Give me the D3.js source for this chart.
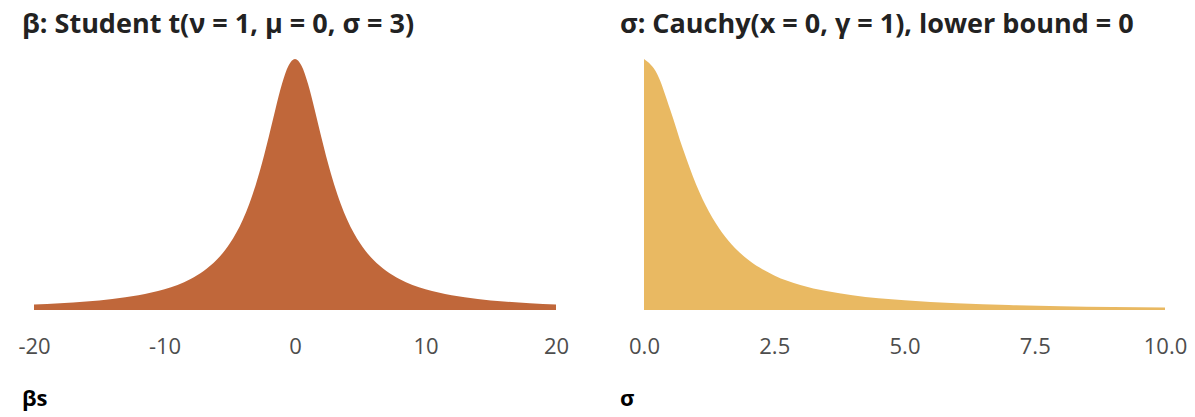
<!DOCTYPE html>
<html>
<head>
<meta charset="utf-8">
<script src="https://cdn.jsdelivr.net/npm/d3@7"></script>
<style>
  body { margin: 0; background: #fff; }
  svg text { font-family: "Open Sans", "Noto Sans", sans-serif; }
</style>
</head>
<body>
<div id="viz"></div>
<script>
// values (density heights)
const betaX = [-20, -18, -16, -14, -12, -10, -9, -8, -7, -6, -5, -4, -3.5, -3, -2.5, -2, -1.5, -1, -0.5,
  0, 0.5, 1, 1.5, 2, 2.5, 3, 3.5, 4, 5, 6, 7, 8, 9, 10, 12, 14, 16, 18, 20];
const betaY = [0.00234, 0.00287, 0.0036, 0.00466, 0.00624, 0.00876, 0.01061, 0.01308, 0.01648, 0.02122,
  0.02807, 0.03817, 0.04494, 0.05305, 0.06263, 0.07346, 0.08488, 0.09549, 0.10322,
  0.1061, 0.10322, 0.09549, 0.08488, 0.07346, 0.06263, 0.05305, 0.04494, 0.03817, 0.02807,
  0.02122, 0.01648, 0.01308, 0.01061, 0.00876, 0.00624, 0.00466, 0.0036, 0.00287, 0.00234];

const sigmaX = [0, 0.25, 0.5, 0.75, 1, 1.25, 1.5, 1.75, 2, 2.5, 3, 3.5, 4, 5, 6, 7, 8, 9, 10];
const sigmaY = [0.6366, 0.5992, 0.5093, 0.4074, 0.3183, 0.2484, 0.1959, 0.1567, 0.1273, 0.0878,
  0.0637, 0.048, 0.0374, 0.0245, 0.0172, 0.0127, 0.0098, 0.0078, 0.0063];

const betaTicks = [-20, -10, 0, 10, 20];
const sigmaTicks = [0, 2.5, 5, 7.5, 10];

const width = 1195, height = 417;
const svg = d3.select('#viz').append('svg')
  .attr('width', width)
  .attr('height', height);

const panels = [
  {
    title: 'β: Student t(ν = 1, μ = 0, σ = 3)', axisTitle: 'βs',
    xs: betaX, ys: betaY, ticks: betaTicks, fmt: d => String(d),
    domain: [-20, 20], range: [34, 556], left: 22, color: '#C0673A'
  },
  {
    title: 'σ: Cauchy(x = 0, γ = 1), lower bound = 0', axisTitle: 'σ',
    xs: sigmaX, ys: sigmaY, ticks: sigmaTicks, fmt: d3.format('.1f'),
    domain: [0, 10], range: [644, 1165], left: 620, color: '#E9B962'
  }
];

const baseY = 310, topY = 59;

panels.forEach(p => {
  const x = d3.scaleLinear().domain(p.domain).range(p.range);
  const y = d3.scaleLinear().domain([0, d3.max(p.ys)]).range([baseY, topY]);
  const pts = p.xs.map((v, i) => [v, p.ys[i]]);

  const area = d3.area()
    .x(d => x(d[0]))
    .y0(y(0))
    .y1(d => y(d[1]))
    .curve(d3.curveMonotoneX);

  svg.append('path')
    .datum(pts)
    .attr('fill', p.color)
    .attr('d', area);

  const axis = svg.append('g')
    .attr('transform', `translate(0,${baseY + 28})`)
    .call(d3.axisBottom(x).tickValues(p.ticks).tickFormat(p.fmt).tickSize(0).tickPadding(0));
  axis.select('.domain').remove();
  axis.selectAll('text')
    .attr('fill', '#4d4d4d')
    .style('font-size', '22px')
    .attr('dy', '0.71em');

  svg.append('text')
    .attr('x', p.left)
    .attr('y', 33)
    .attr('fill', '#222')
    .style('font-size', '27px')
    .style('font-weight', 'bold')
    .text(p.title);

  svg.append('text')
    .attr('x', p.left)
    .attr('y', 406)
    .attr('fill', '#000')
    .style('font-size', '22px')
    .style('font-weight', 'bold')
    .text(p.axisTitle);
});
</script>
</body>
</html>
